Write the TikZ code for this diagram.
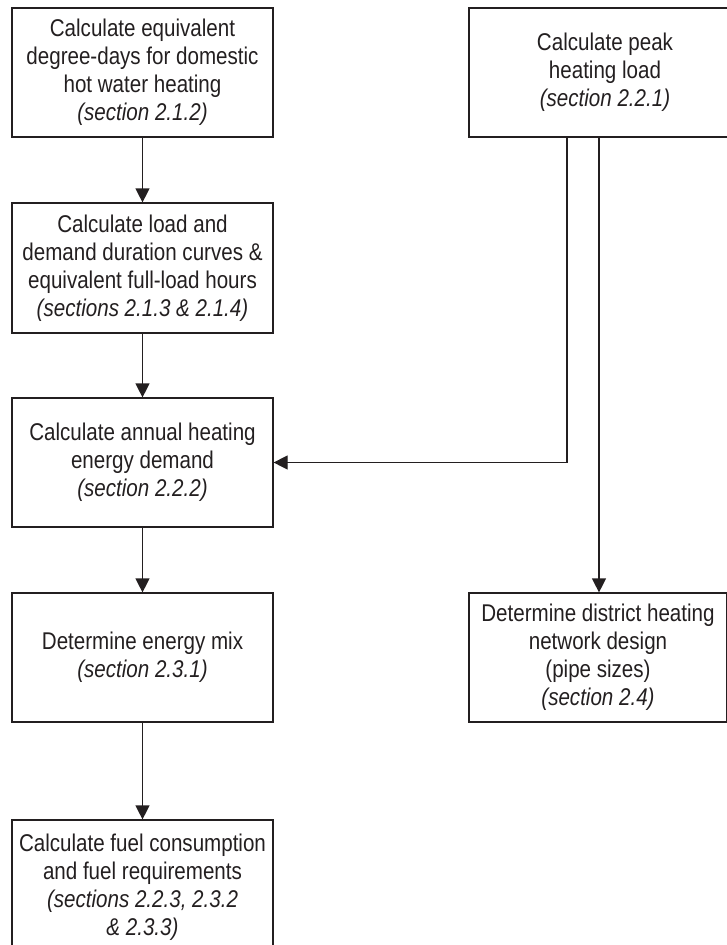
\documentclass[tikz,border=0pt]{standalone}
\usepackage{fontspec}
\setmainfont[FakeStretch=0.85]{Liberation Sans}
\usetikzlibrary{arrows.meta}
\definecolor{ink}{HTML}{231F20}
\tikzset{
  box/.style={draw=ink, line width=1.2pt, text=ink, align=center, inner sep=0pt,
    font=\fontsize{24.2}{28}\selectfont},
  conn/.style={draw=ink, line width=1.2pt, -{Triangle[length=14pt,width=14pt]}},
}
\begin{document}
\begin{tikzpicture}[x=1pt,y=-1pt]
\useasboundingbox (0,0) rectangle (726,945);
\node[box, minimum width=261pt, minimum height=129pt] (b1) at (142.5,72.5)
  {Calculate equivalent\\degree-days for domestic\\hot water heating\\\textit{(section 2.1.2)}};
\node[box, minimum width=272pt, minimum height=129pt] (pk) at (605,72.5)
  {Calculate peak\\heating load\\\textit{(section 2.2.1)}};
\node[box, minimum width=261pt, minimum height=130pt] (b3) at (142.5,268)
  {Calculate load and\\demand duration curves \&\\equivalent full-load hours\\\textit{(sections 2.1.3 \& 2.1.4)}};
\node[box, minimum width=261pt, minimum height=129pt] (b4) at (142.5,462.5)
  {Calculate annual heating\\energy demand\\\textit{(section 2.2.2)}};
\node[box, minimum width=261pt, minimum height=129pt] (b5) at (142.5,657.5)
  {Determine energy mix\\\textit{(section 2.3.1)}};
\node[box, minimum width=258pt, minimum height=129pt] (b6) at (598,657.5)
  {Determine district heating\\network design\\(pipe sizes)\\\textit{(section 2.4)}};
\node[box, minimum width=261pt, minimum height=135pt] (b7) at (142.5,887.5)
  {Calculate fuel consumption\\and fuel requirements\\\textit{(sections 2.2.3, 2.3.2}\\\textit{\& 2.3.3)}};
\coordinate (pa) at (567,137);
\coordinate (pb) at (599,137);
\coordinate (corner) at (567,462.5);
\draw[conn] (b1.south) -- (b3.north);
\draw[conn] (b3.south) -- (b4.north);
\draw[conn] (b4.south) -- (b5.north);
\draw[conn] (b5.south) -- (b7.north);
\draw[conn] (pb) -- (pb |- b6.north);
\draw[conn] (pa) -- (corner) -- (b4.east);
\end{tikzpicture}
\end{document}
